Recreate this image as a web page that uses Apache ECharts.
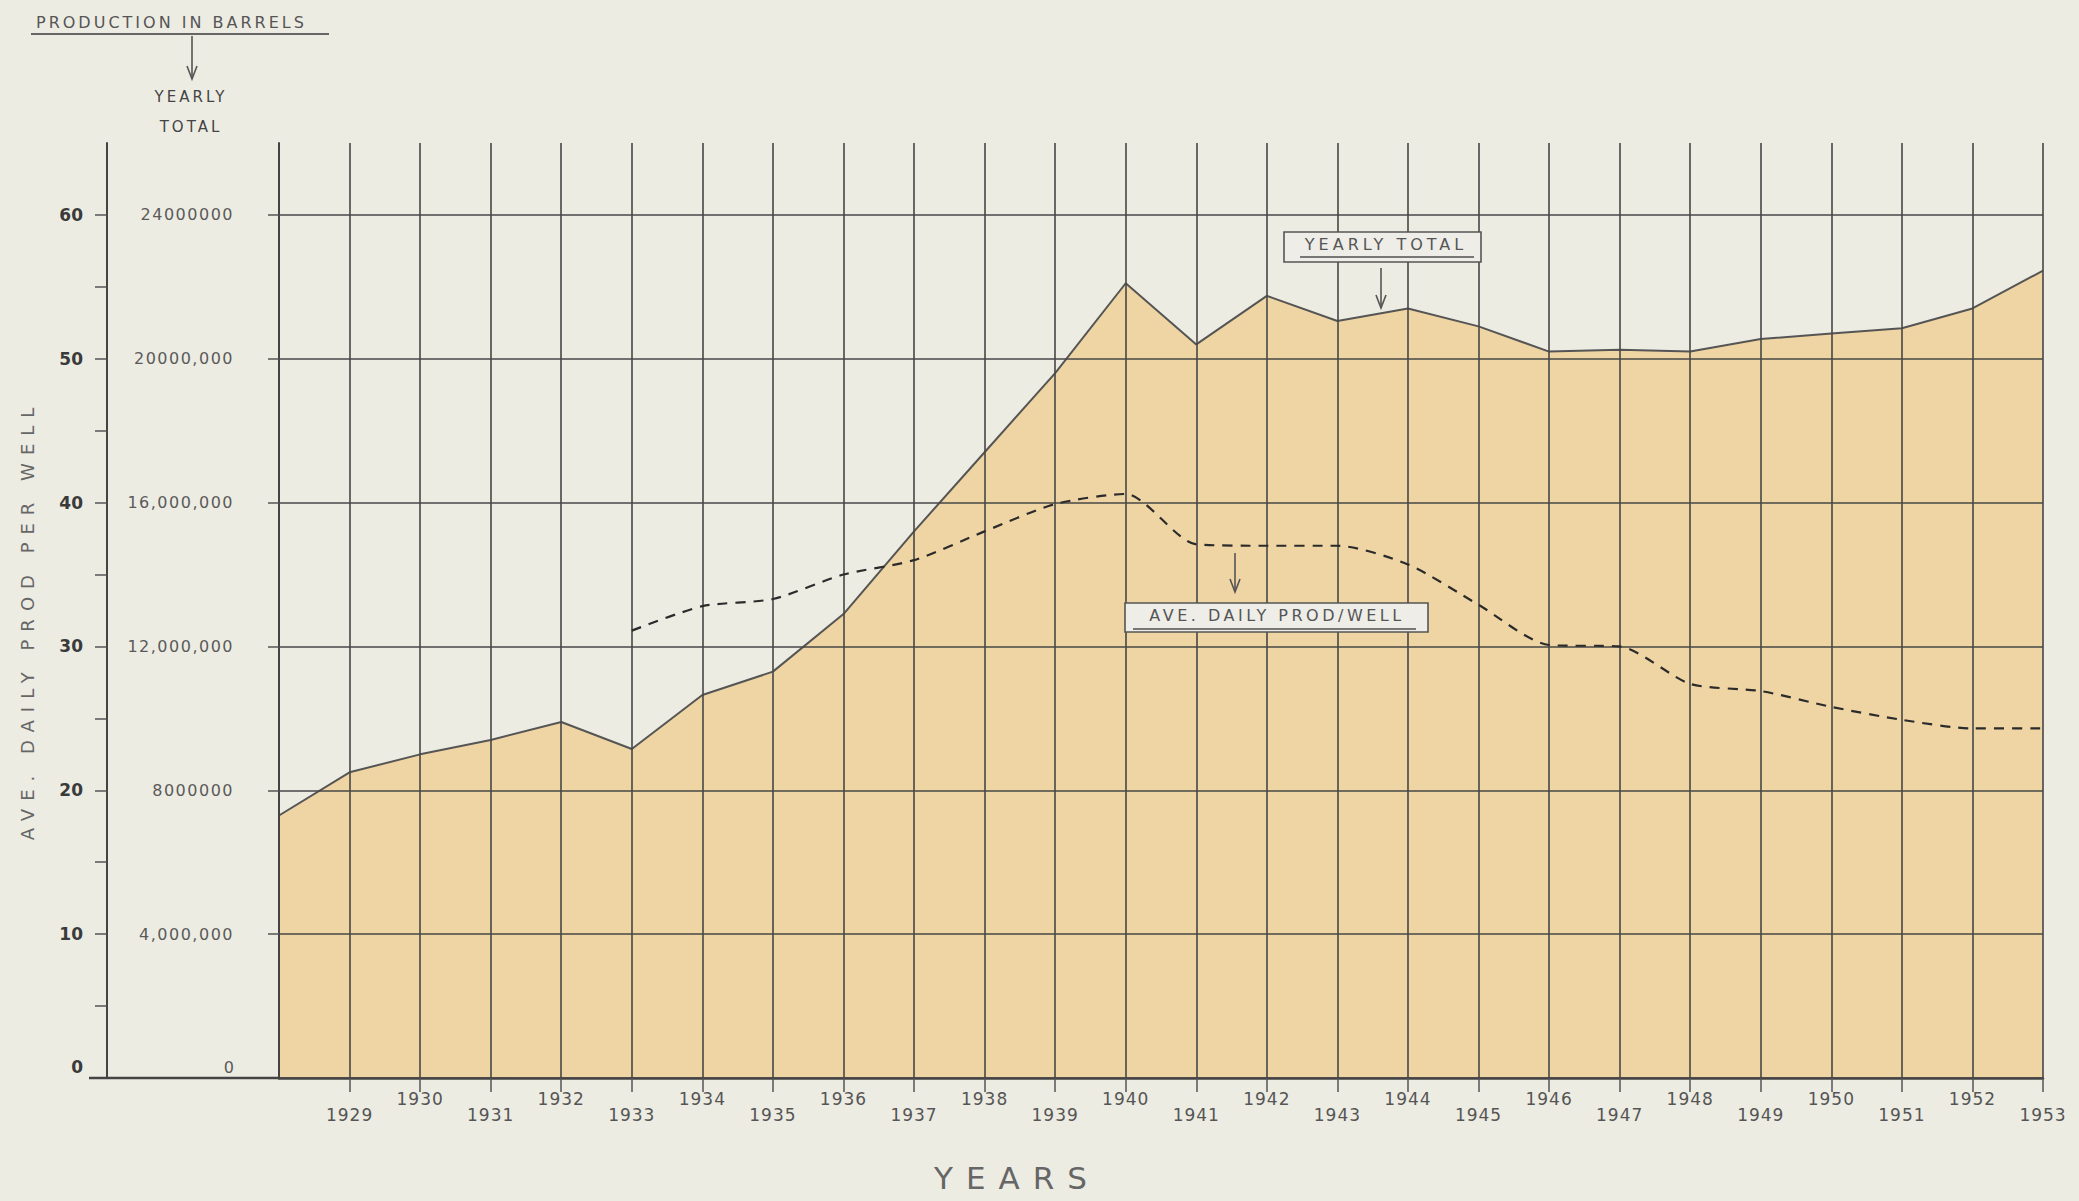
<!DOCTYPE html>
<html>
<head>
<meta charset="utf-8">
<script src="https://cdn.jsdelivr.net/npm/echarts@6/dist/echarts.min.js"></script>
<style>
html,body{margin:0;padding:0;background:#EDECE3;}
#c{width:2079px;height:1201px;}
</style>
</head>
<body>
<div id="c"></div>
<script>
// ---------- DATA ----------
const years = [1928,1929,1930,1931,1932,1933,1934,1935,1936,1937,1938,1939,1940,
               1941,1942,1943,1944,1945,1946,1947,1948,1949,1950,1951,1952,1953];
// Yearly total production, barrels
const yearlyTotal = [7300000,8500000,9000000,9400000,9900000,9150000,10650000,11300000,12900000,
                     15200000,17400000,19600000,22100000,20400000,21750000,21050000,21400000,
                     20900000,20200000,20250000,20200000,20550000,20700000,20850000,21400000,22450000];
// Average daily production per well, barrels
const dailyYears = [1933,1934,1935,1936,1937,1938,1939,1940,1941,1942,1943,
                    1944,1945,1946,1947,1948,1949,1950,1951,1952,1953];
const avgDailyPerWell = [31.1,32.8,33.3,35.0,36.0,38.0,39.9,40.6,37.1,37.0,37.0,
                         35.7,32.9,30.1,30.0,27.4,26.9,25.8,24.9,24.3,24.3];
// Axis ticks / labels
const yearLabels = [1929,1930,1931,1932,1933,1934,1935,1936,1937,1938,1939,1940,1941,
                    1942,1943,1944,1945,1946,1947,1948,1949,1950,1951,1952,1953];
const barrelTickValues = [0,4000000,8000000,12000000,16000000,20000000,24000000];
const barrelTickLabels = ['0','4,000,000','8000000','12,000,000','16,000,000','20000,000','24000000'];
const dailyTickValues = [0,10,20,30,40,50,60];
const dailyMinorTicks = [0,5,10,15,20,25,30,35,40,45,50,55,60];

// ---------- CHART ----------
const FONT = 'DejaVu Sans';
const GRID = '#474747';
const chart = echarts.init(document.getElementById('c'), null, {renderer:'svg', width:2079, height:1201});

const totalData = years.map((y,i)=>[y, yearlyTotal[i]]);
const dailyData = dailyYears.map((y,i)=>[y, avgDailyPerWell[i]]);

function arrow(x, y1, y2){
  return [
    {type:'line', z:100, shape:{x1:x,y1:y1,x2:x,y2:y2}, style:{stroke:'#555',lineWidth:1.6}},
    {type:'polyline', z:100, shape:{points:[[x-5,y2-13],[x,y2],[x+5,y2-13]]}, style:{stroke:'#555',fill:null,lineWidth:1.6}}
  ];
}

const option = {
  backgroundColor:'#EDECE3',
  animation:false,
  grid:{left:279, right:36, top:143, bottom:123, containLabel:false},
  xAxis:{
    type:'value', min:1928, max:1953, interval:1,
    axisLine:{show:true, lineStyle:{color:'#444', width:2.5}},
    axisTick:{show:true, customValues:yearLabels, length:14, lineStyle:{color:'#555', width:1.5}},
    splitLine:{show:true, lineStyle:{color:GRID, width:1.6}},
    axisLabel:{
      customValues:yearLabels, margin:12,
      formatter:(v)=> (Math.round(v)%2===0 ? '{hi|'+v+'}' : '{lo|'+v+'}'),
      rich:{
        hi:{fontFamily:FONT, fontSize:17, color:'#555', padding:[0,0,0,0]},
        lo:{fontFamily:FONT, fontSize:17, color:'#555', padding:[16,0,0,0]}
      }
    }
  },
  yAxis:[
    {
      type:'value', min:0, max:26000000, interval:2000000, position:'left',
      axisLine:{show:true, lineStyle:{color:'#444', width:2}},
      axisTick:{show:true, customValues:barrelTickValues, length:11, lineStyle:{color:'#555', width:1.5}},
      splitLine:{show:true, lineStyle:{color:GRID, width:1.6}},
      axisLabel:{
        customValues:barrelTickValues, margin:45,
        fontFamily:FONT, fontSize:16, color:'#5a5a5a',
        formatter:(v)=>{
          const i = barrelTickValues.indexOf(v);
          const s = i>=0 ? barrelTickLabels[i] : '';
          return v===0 ? '{z|'+s+'}' : s;
        },
        rich:{z:{fontFamily:FONT, fontSize:16, color:'#5a5a5a', padding:[0,0,22,0]}}
      }
    },
    {
      type:'value', min:0, max:65, position:'left', offset:172,
      axisLine:{show:true, lineStyle:{color:'#444', width:2}},
      axisTick:{show:true, customValues:dailyMinorTicks, length:12, lineStyle:{color:'#555', width:1.5}},
      splitLine:{show:false},
      axisLabel:{
        customValues:dailyTickValues, margin:24,
        fontFamily:FONT, fontSize:17, fontWeight:'bold', color:'#3a3a3a',
        formatter:(v)=> v===0 ? '{z|0}' : String(v),
        rich:{z:{fontFamily:FONT, fontSize:17, fontWeight:'bold', color:'#3a3a3a', padding:[0,0,22,0]}}
      }
    }
  ],
  series:[
    {
      name:'Yearly total', type:'line', xAxisIndex:0, yAxisIndex:0, data:totalData,
      symbol:'none', z:-1, silent:true,
      lineStyle:{color:'#555', width:2},
      areaStyle:{color:'#EFD5A3', opacity:1}
    },
    {
      name:'Ave. daily prod/well', type:'line', xAxisIndex:0, yAxisIndex:1, data:dailyData,
      symbol:'none', z:5, silent:true, smooth:0.25,
      lineStyle:{color:'#2b2b2b', width:2.2, type:[10,8]}
    }
  ],
  graphic:[
    // baseline extension to the left axis
    {type:'line', z:50, shape:{x1:89,y1:1078,x2:280,y2:1078}, style:{stroke:'#444',lineWidth:2.5}},
    // header
    {type:'text', z:100, x:36, y:22, style:{text:'PRODUCTION IN BARRELS', font:'16px '+FONT, fill:'#555', align:'left', verticalAlign:'middle'}},
    {type:'line', z:100, shape:{x1:31,y1:34,x2:329,y2:34}, style:{stroke:'#666',lineWidth:2}},
    ...arrow(192, 36, 79),
    {type:'text', z:100, x:191, y:97, style:{text:'YEARLY', font:'15px '+FONT, fill:'#444', align:'center', verticalAlign:'middle'}},
    {type:'text', z:100, x:191, y:127, style:{text:'TOTAL', font:'15px '+FONT, fill:'#444', align:'center', verticalAlign:'middle'}},
    // vertical axis title
    {type:'text', z:100, x:27, y:620, rotation:Math.PI/2, style:{text:'AVE. DAILY PROD PER WELL', font:'18px '+FONT, fill:'#666', align:'center', verticalAlign:'middle'}},
    // x axis title
    {type:'text', z:100, x:1017, y:1178, style:{text:'YEARS', font:'31px '+FONT, fill:'#666', align:'center', verticalAlign:'middle'}},
    // YEARLY TOTAL callout
    {type:'rect', z:100, shape:{x:1284,y:232,width:197,height:30}, style:{fill:'#EEEDE8', stroke:'#555', lineWidth:1.6}},
    {type:'text', z:101, x:1386, y:244, style:{text:'YEARLY TOTAL', font:'16px '+FONT, fill:'#555', align:'center', verticalAlign:'middle'}},
    {type:'line', z:101, shape:{x1:1300,y1:257,x2:1474,y2:257}, style:{stroke:'#777',lineWidth:2}},
    ...arrow(1381, 268, 308),
    // AVE. DAILY PROD/WELL callout
    {type:'rect', z:100, shape:{x:1125,y:603,width:303,height:29}, style:{fill:'#EEEDE8', stroke:'#555', lineWidth:1.6}},
    {type:'text', z:101, x:1277, y:615, style:{text:'AVE. DAILY PROD/WELL', font:'16px '+FONT, fill:'#555', align:'center', verticalAlign:'middle'}},
    {type:'line', z:101, shape:{x1:1133,y1:629,x2:1416,y2:629}, style:{stroke:'#777',lineWidth:2}},
    ...arrow(1235, 553, 592)
  ]
};
chart.setOption(option);

// hand-lettered look: widen letter spacing of the SVG texts
const spacing = {
  'PRODUCTION IN BARRELS':3, 'YEARLY':3, 'TOTAL':3,
  'AVE. DAILY PROD PER WELL':8, 'YEARS':13,
  'YEARLY TOTAL':4, 'AVE. DAILY PROD/WELL':3.5
};
function applySpacing(){
  document.querySelectorAll('#c svg text').forEach(t=>{
    const s = (t.textContent||'').trim();
    let ls = null;
    if (spacing[s] !== undefined) ls = spacing[s];
    else if (/^19\d\d$/.test(s)) ls = 1;
    else if (/^[\d,]{4,}$/.test(s)) ls = 1.5;
    if (ls !== null) t.setAttribute('letter-spacing', ls);
  });
}
chart.on('finished', applySpacing);
applySpacing();
setTimeout(applySpacing, 30);
setTimeout(applySpacing, 300);
</script>
</body>
</html>
